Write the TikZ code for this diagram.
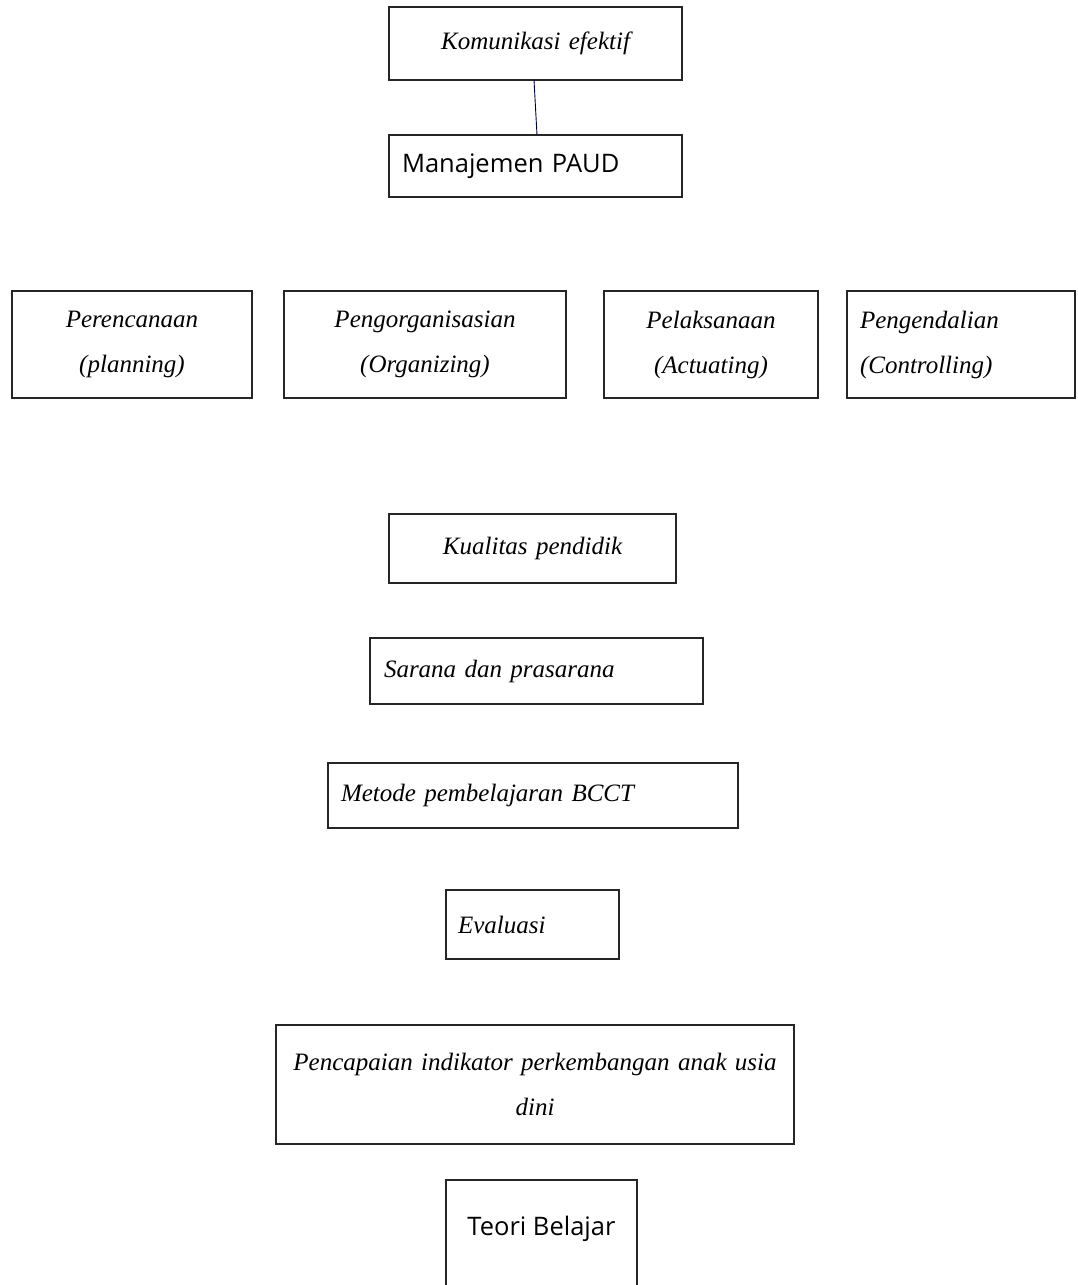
\documentclass[tikz,border=0pt]{standalone}
\usepackage{fontspec}
\setmainfont{Liberation Serif}
\newfontfamily\opensans{Open Sans}
\DeclareRobustCommand\myscrfont{\fontsize{25}{45}\selectfont\itshape\spaceskip=4pt plus 1pt\relax}
\begin{document}
\begin{tikzpicture}[x=1pt,y=-1pt,
  box/.style={draw=black!85, line width=1.2pt, rectangle, inner sep=0pt, outer sep=0pt},
  scr/.style={font=\myscrfont},
  sans/.style={font=\fontsize{25.5}{30}\selectfont\opensans},
  link/.style={draw=black!75!blue, line width=0.9pt}]
\useasboundingbox[fill=white] (0,0) rectangle (1078,1285);

\node[box, scr, minimum width=293pt, minimum height=73pt, text width=293pt, align=center] (kom) at (535.5,43.5) {Komunikasi efektif};
\node[box, sans, minimum width=293pt, minimum height=62pt, inner xsep=13pt, text width=267pt, align=left] (man) at (535.5,166) {Manajemen PAUD};
\draw[link] ([xshift=-1.5pt]kom.south) -- ([xshift=1.5pt]man.north);

\node[box, scr, minimum width=240pt, minimum height=107pt, text width=240pt, align=center] (per) at (132,344.5) {Perencanaan\\(planning)};
\node[box, scr, minimum width=282pt, minimum height=107pt, text width=282pt, align=center] (org) at (425,344.5) {Pengorganisasian\\(Organizing)};
\node[box, scr, minimum width=214pt, minimum height=107pt, text width=214pt, align=center] (pel) at (711,344.5) {Pelaksanaan\\(Actuating)};
\node[box, scr, minimum width=228pt, minimum height=107pt, inner xsep=13pt, text width=202pt, align=left] (pend) at (961,344.5) {Pengendalian\\(Controlling)};

\node[box, scr, minimum width=287pt, minimum height=69pt, text width=287pt, align=center] (kual) at (532.5,548.5) {Kualitas pendidik};
\node[box, scr, minimum width=333pt, minimum height=66pt, inner xsep=14pt, text width=305pt, align=left] (sar) at (536.5,671) {Sarana dan prasarana};
\node[box, scr, minimum width=410pt, minimum height=65pt, inner xsep=13pt, text width=384pt, align=left] (met) at (533,795.5) {Metode pembelajaran BCCT};
\node[box, scr, minimum width=173pt, minimum height=69pt, inner xsep=12pt, text width=149pt, align=left] (eva) at (532.5,924.5) {Evaluasi};
\node[box, scr, minimum width=518pt, minimum height=119pt, text width=518pt, align=center] (pen) at (535,1084.5) {Pencapaian indikator perkembangan anak usia\\dini};

\node[box, minimum width=191pt, minimum height=120pt] (teo) at (541.5,1240) {};
\node[sans, inner sep=0pt] (teot) at (541.5,1229) {Teori Belajar};
\end{tikzpicture}
\end{document}
